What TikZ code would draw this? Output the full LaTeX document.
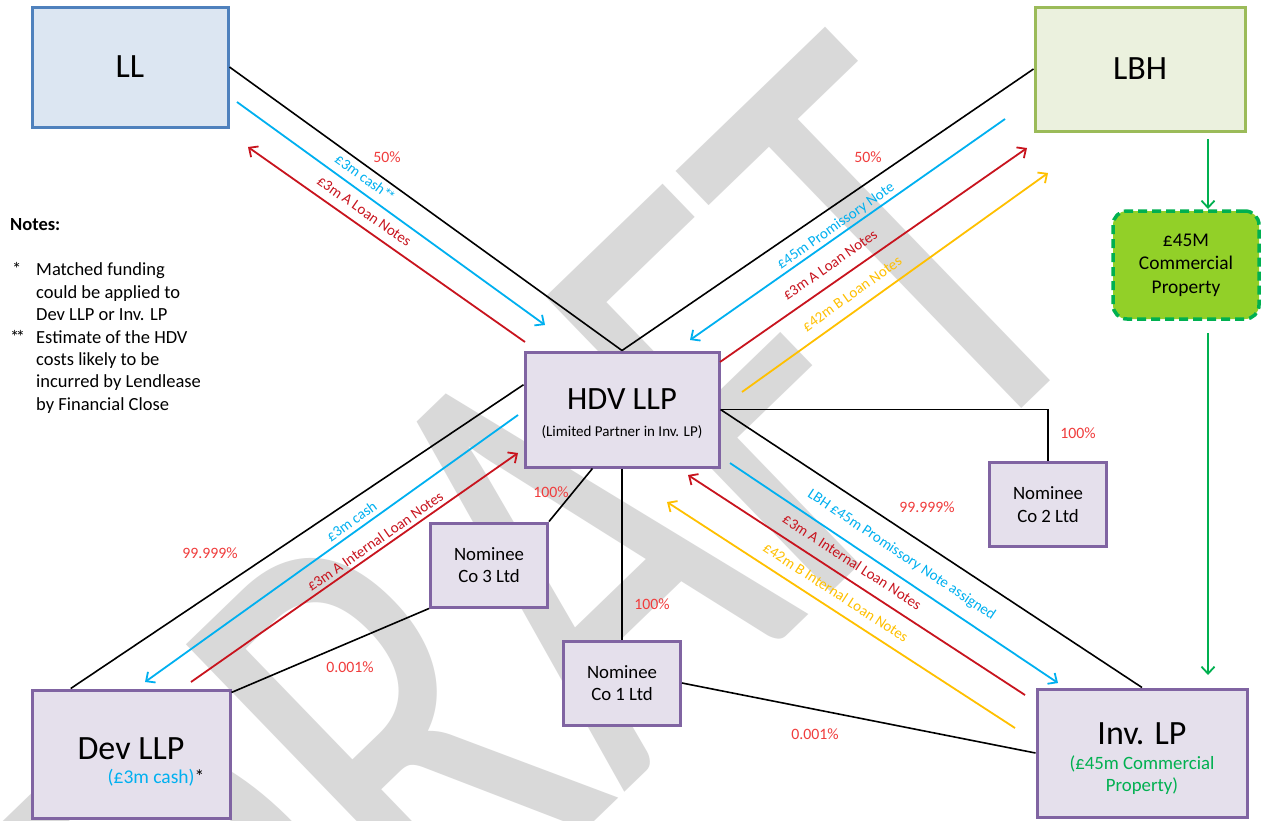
\documentclass[tikz,border=0pt]{standalone}
\usepackage{fontspec}
\setmainfont{Carlito}
\usetikzlibrary{arrows.meta,calc}
\definecolor{llfill}{RGB}{220,230,242}
\definecolor{lldraw}{RGB}{79,129,189}
\definecolor{lbhfill}{RGB}{235,241,222}
\definecolor{lbhdraw}{RGB}{155,187,89}
\definecolor{pfill}{RGB}{229,224,236}
\definecolor{pdraw}{RGB}{128,100,162}
\definecolor{cyanc}{RGB}{0,176,240}
\definecolor{redc}{RGB}{200,20,30}
\definecolor{yelc}{RGB}{255,192,0}
\definecolor{grnc}{RGB}{0,176,80}
\definecolor{limec}{RGB}{146,208,40}
\definecolor{pct}{RGB}{240,60,60}
\definecolor{wmc}{RGB}{217,217,217}
\begin{document}
\begin{tikzpicture}[x=1pt,y=-1pt,
  box/.style={draw, line width=3pt, inner sep=0pt, align=center},
  pbox/.style={box, draw=pdraw, fill=pfill},
  nom/.style={pbox, minimum width=117pt, minimum height=84pt, font=\fontsize{18.8}{22.5}\selectfont},
  conn/.style={line width=1.6pt, black},
  tip/.style={-{Straight Barb[length=7pt,width=13pt]}},
  rtip/.style={{Straight Barb[length=7pt,width=13pt]}-},
  flow/.style={line width=1.8pt},
  lab/.style={font=\fontsize{15}{18}\selectfont, sloped, inner sep=2pt},
  pctlab/.style={text=pct, font=\fontsize{15.8}{18}\selectfont, inner sep=0pt}]
\useasboundingbox (0,0) rectangle (1265,820);
\fill[white] (0,0) rectangle (1265,820);
% watermark
\begin{scope}
\clip (0,0) rectangle (1265,820);
\node[rotate=44, anchor=base west, text=wmc, inner sep=0pt, font=\fontsize{640}{640}\selectfont] (wm) at (250,1154) {\scalebox{0.7}[1]{DRAFT}};
\end{scope}
% boxes
\node[box, draw=lldraw, fill=llfill, minimum width=196pt, minimum height=120pt, font=\fontsize{34}{40}\selectfont] (LL) at (130,67) {LL};
\node[box, draw=lbhdraw, fill=lbhfill, minimum width=210pt, minimum height=124pt, font=\fontsize{34}{40}\selectfont] (LBH) at (1140,69) {LBH};
\node[box, draw=grnc, fill=limec, line width=3.5pt, dash pattern=on 9pt off 5pt, rounded corners=14pt, minimum width=146pt, minimum height=108pt, font=\fontsize{19.4}{23.5}\selectfont] (CP) at (1186,265) {£45M\\Commercial\\Property};
\node[pbox, minimum width=194pt, minimum height=115pt, font=\fontsize{15}{18}\selectfont] (HDV) at (622,409.5) {{\fontsize{32.5}{34}\selectfont\rule{0pt}{30pt}HDV LLP}\\[9pt](Limited Partner in Inv. LP)};
\node[nom] (N2) at (1048,504.5) {Nominee\\Co 2 Ltd};
\node[nom] (N3) at (489,565) {Nominee\\Co 3 Ltd};
\node[nom] (N1) at (622,683) {Nominee\\Co 1 Ltd};
\node[pbox, minimum width=198pt, minimum height=128pt, font=\fontsize{19.5}{22}\selectfont] (Dev) at (131,754) {{\fontsize{34}{36}\selectfont\rule{0pt}{38pt}Dev LLP}\\[2pt]\hspace*{50pt}{\color{cyanc}(£3m cash)}*};
\node[pbox, minimum width=210pt, minimum height=128pt, font=\fontsize{18.8}{22}\selectfont] (Inv) at (1142,753) {{\fontsize{34}{36}\selectfont\rule{0pt}{33pt}Inv. LP}\\[3pt]{\color{grnc}(£45m Commercial}\\{\color{grnc}Property)}};
% notes
\node[anchor=west, inner sep=0pt, font=\fontsize{18.5}{22}\selectfont\bfseries] (notesh) at (10,225) {Notes:};
\node[anchor=north west, inner sep=0pt, font=\fontsize{18.5}{22.4}\selectfont] (notes) at (10,260) {\begin{tabular}{@{}p{26pt}@{}l@{}}
{\hspace*{2pt}*} & Matched funding\\
  & could be applied to\\
  & Dev LLP or Inv. LP\\
{*\kern-3.5pt*} & Estimate of the HDV\\
  & costs likely to be\\
  & incurred by Lendlease\\
  & by Financial Close
\end{tabular}};
% ownership lines
\draw[conn] (LL.east) -- (HDV.north);
\draw[conn] (LBH.west) -- (HDV.north);
\draw[conn] ($(Dev.north west)!0.2!(Dev.north east)$) -- ($(HDV.north west)!0.29!(HDV.south west)$);
\draw[conn] (HDV.east) -- (Inv.north);
\draw[conn] (HDV.east) -| (N2.north);
\draw[conn] ($(HDV.south west)!0.35!(HDV.south east)$) -- (N3.north east);
\draw[conn] (HDV.south) -- (N1.north);
\draw[conn] (N3.south west) -- ($(Dev.north east)!0.03!(Dev.south east)$);
\draw[conn] (N1.east) -- (Inv.west);
% percentages
\node[pctlab] (p1) at (387,157) {50\%};
\node[pctlab] (p2) at (868,157) {50\%};
\node[pctlab] (p3) at (1078,433) {100\%};
\node[pctlab] (p4) at (927,507) {99.999\%};
\node[pctlab] (p5) at (210,553) {99.999\%};
\node[pctlab] (p6) at (551,492) {100\%};
\node[pctlab] (p7) at (652,604) {100\%};
\node[pctlab] (p8) at (350,667) {0.001\%};
\node[pctlab] (p9) at (815,734) {0.001\%};
% flow arrow end points
\coordinate (a1s) at (237,102); \coordinate (a1e) at (545,325);
\coordinate (a2s) at (248,147); \coordinate (a2e) at (525,342);
\coordinate (b1s) at (690,340); \coordinate (b1e) at (1005,119);
\coordinate (b2s) at (720,362); \coordinate (b2e) at (1027,148);
\coordinate (b3s) at (742,392); \coordinate (b3e) at (1048,173);
\coordinate (c1s) at (145,682); \coordinate (c1e) at (518,415);
\coordinate (c2s) at (191,682); \coordinate (c2e) at (518,453);
\coordinate (d1s) at (730,463); \coordinate (d1e) at (1058,683);
\coordinate (d2s) at (688,475); \coordinate (d2e) at (1025,695);
\coordinate (d3s) at (667,502); \coordinate (d3e) at (1015,728);
\coordinate (g1s) at (1208,139); \coordinate (g1e) at (1208,209);
\coordinate (g2s) at (1208,333); \coordinate (g2e) at (1208,675);
% LL flows
\draw[flow, cyanc, tip] (a1s) -- node[lab, above=5.6pt, pos=0.39, text=cyanc] {£3m cash*\kern-3pt*} (a1e);
\draw[flow, redc, rtip] (a2s) -- node[lab, above=6.4pt, pos=0.39, text=redc] {£3m A Loan Notes} (a2e);
% LBH flows
\draw[flow, cyanc, rtip] (b1s) -- node[lab, above=0pt, pos=0.48, text=cyanc] {£45m Promissory Note} (b1e);
\draw[flow, redc, tip] (b2s) -- node[lab, above=8.9pt, pos=0.39, text=redc] {£3m A Loan Notes} (b2e);
\draw[flow, yelc, tip] (b3s) -- node[lab, above=8pt, pos=0.39, text=yelc] {£42m B Loan Notes} (b3e);
% Dev flows
\draw[flow, cyanc, rtip] (c1s) -- node[lab, above=2.3pt, pos=0.57, text=cyanc] {£3m cash} (c1e);
\draw[flow, redc, tip] (c2s) -- node[lab, above=1.5pt, pos=0.58, text=redc] {£3m A Internal Loan Notes} (c2e);
% Inv flows
\draw[flow, cyanc, tip] (d1s) -- node[lab, above=9.7pt, pos=0.49, text=cyanc] {LBH £45m Promissory Note assigned} (d1e);
\draw[flow, redc, rtip] (d2s) -- node[lab, above=8.9pt, pos=0.46, text=redc] {£3m A Internal Loan Notes} (d2e);
\draw[flow, yelc, rtip] (d3s) -- node[lab, above=8pt, pos=0.46, text=yelc] {£42m B Internal Loan Notes} (d3e);
% green arrows
\draw[flow, grnc, tip] (g1s) -- (g1e);
\draw[flow, grnc, tip] (g2s) -- (g2e);
\end{tikzpicture}
\end{document}
